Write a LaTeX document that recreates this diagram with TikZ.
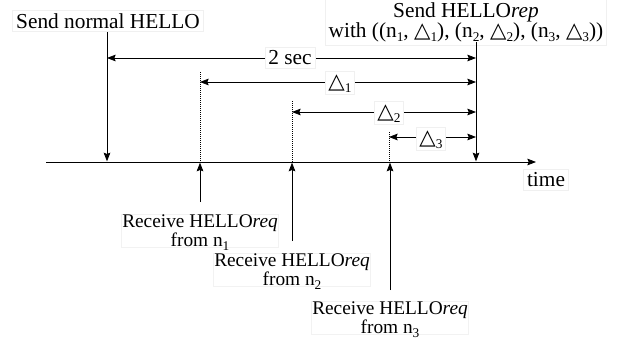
\documentclass[tikz,border=0pt]{standalone}
\usepackage{fontspec}
\setmainfont{Liberation Serif}
\newfontfamily\symfont{DejaVu Sans}
\usetikzlibrary{arrows.meta}
% hollow triangle (delta) and a lowered small index
\newcommand{\dlt}{{\symfont\char"25B3}}
\newcommand{\lowidx}[1]{\raisebox{-0.45ex}[0pt][0pt]{\fontsize{10}{10}\selectfont #1}}
\begin{document}
\begin{tikzpicture}[x=0.75pt,y=-0.75pt,line width=0.6pt,
  tip/.style={-{Stealth[length=6.5pt,width=5pt,inset=1pt]}},
  span/.style={{Stealth[length=6.5pt,width=5pt,inset=1pt]}-{Stealth[length=6.5pt,width=5pt,inset=1pt]}},
  lbl/.style={fill=white,draw=black!6,inner sep=2.5pt,font=\fontsize{16}{15}\selectfont},
  rcv/.style={fill=white,draw=black!5,inner sep=0.5pt,align=center,font=\fontsize{14.5}{14.2}\selectfont},
  dotline/.style={dash pattern=on 0.9pt off 0.6pt,line width=0.75pt}]
\useasboundingbox (0,0) rectangle (623,339);

% time axis
\coordinate (t0) at (46,162);
\coordinate (t1) at (536,162);
\draw[tip] (t0) -- (t1);
\node[font=\fontsize{16}{18}\selectfont,fill=white,draw=black!6,inner sep=2.5pt] (time) at (546,180) {time};

% events on the axis
\coordinate (e0) at (107,162);
\coordinate (e1) at (200,162);
\coordinate (e2) at (292,162);
\coordinate (e3) at (389,162);
\coordinate (er) at (476,162);

% sending the normal HELLO
\node[lbl] (snh) at (108,21) {Send normal HELLO};
\coordinate (snhtop) at (107,32);
\draw[tip] (snhtop) -- ([yshift=0.5pt]e0);

% sending the HELLOrep
\node[lbl,align=center] (rep) at (466,22) {Send HELLO\textit{rep}\\with ((n\lowidx{1}, \dlt\lowidx{1}), (n\lowidx{2}, \dlt\lowidx{2}), (n\lowidx{3}, \dlt\lowidx{3}))};
\coordinate (reptop) at (476,42);
\draw[tip] (reptop) -- ([yshift=0.5pt]er);

% start points of the waiting intervals
\coordinate (d1top) at (200,72);
\coordinate (d2top) at (292,101);
\coordinate (d3top) at (389,132);
\draw[dotline] (d1top) -- (e1);
\draw[dotline] (d2top) -- (e2);
\draw[dotline] (d3top) -- (e3);

% intervals
\coordinate (s0a) at (107,58);  \coordinate (s0b) at (476,58);
\coordinate (s1a) at (200,82);  \coordinate (s1b) at (476,82);
\coordinate (s2a) at (292,112); \coordinate (s2b) at (476,112);
\coordinate (s3a) at (389,137); \coordinate (s3b) at (476,137);
\draw[span] (s0a) -- (s0b);
\draw[span] (s1a) -- (s1b);
\draw[span] (s2a) -- (s2b);
\draw[span] (s3a) -- (s3b);
\node[lbl] (l0) at (290,58) {2 sec};
\node[lbl] (l1) at (340,83) {\dlt\lowidx{1}};
\node[lbl] (l2) at (389,113) {\dlt\lowidx{2}};
\node[lbl] (l3) at (431,139) {\dlt\lowidx{3}};

% received requests
\node[rcv] (r1) at (200,231) {Receive HELLO\textit{req}\\from n\lowidx{1}};
\node[rcv] (r2) at (292,270) {Receive HELLO\textit{req}\\from n\lowidx{2}};
\node[rcv] (r3) at (390,318) {Receive HELLO\textit{req}\\from n\lowidx{3}};
\coordinate (r1top) at (200,202);
\coordinate (r2top) at (292,241);
\coordinate (r3top) at (390,290);
\draw[tip] (r1top) -- ([yshift=-0.5pt]e1);
\draw[tip] (r2top) -- ([yshift=-0.5pt]e2);
\draw[tip] (r3top) -- ([yshift=-0.5pt]e3 -| r3top);
\end{tikzpicture}
\end{document}
